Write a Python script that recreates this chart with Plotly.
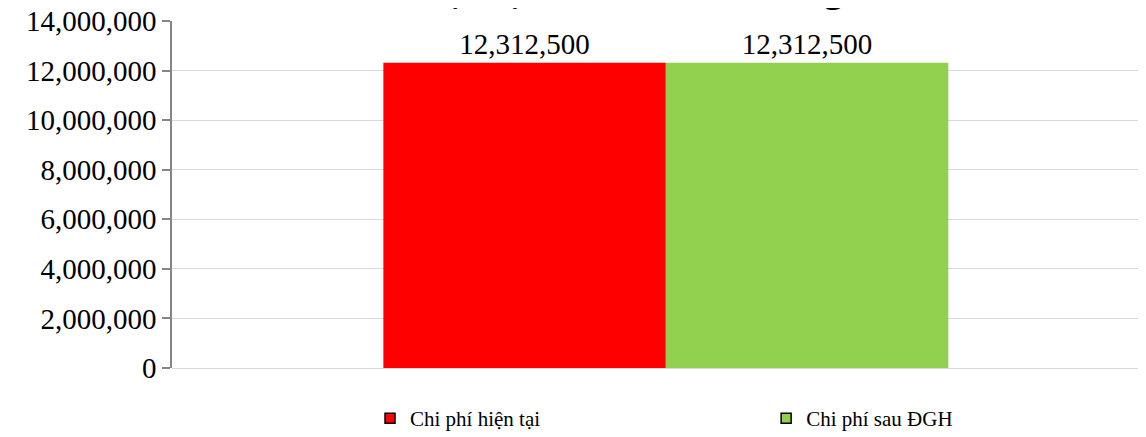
import plotly.graph_objects as go

categories = ["Chi phí"]
series_names = ["Chi phí hiện tại", "Chi phí sau ĐGH"]
series_values = [[12312500], [12312500]]
series_colors = ["#FF0000", "#92D050"]
title_lines = ["Chi phí", "hiện tại và sau ĐGH, đồng"]

FONT = "Times New Roman, Liberation Serif, serif"
legend_ids = ["legend", "legend2"]

fig = go.Figure()
for name, vals, col, lid in zip(series_names, series_values, series_colors, legend_ids):
    fig.add_trace(go.Bar(
        x=categories, y=vals, name=name, marker=dict(color=col, line=dict(width=0)),
        text=[f"{v:,}" for v in vals], textposition="outside", cliponaxis=False,
        textfont=dict(family=FONT, size=29, color="black"), showlegend=False,
    ))
    fig.add_trace(go.Scatter(
        x=[None], y=[None], mode="markers", name=name, legend=lid,
        marker=dict(symbol="square", size=10, color=col, line=dict(color="black", width=1.5)),
        showlegend=True,
    ))

fig.add_annotation(
    text="<b>" + "<br>".join(title_lines) + "</b>", xref="paper", yref="paper",
    x=0.2464, y=1.026, xanchor="left", yanchor="bottom", align="left", showarrow=False,
    font=dict(family=FONT, size=38, color="black"),
)

leg_common = dict(orientation="h", xanchor="left", y=-0.0865, yanchor="top",
                  font=dict(family=FONT, size=21, color="black"), itemwidth=30,
                  bgcolor="rgba(0,0,0,0)")

# page body has an 8px offset; compensate in size and margins
fig.update_layout(
    width=1138, height=429,
    margin=dict(l=164, r=0, t=13, b=69, pad=0, autoexpand=False),
    paper_bgcolor="white", plot_bgcolor="white",
    barmode="group", bargap=0.42, bargroupgap=0,
    font=dict(family=FONT, color="black"),
    showlegend=True,
    legend=dict(x=0.2033, **leg_common),
    legend2=dict(x=0.61, **leg_common),
    xaxis=dict(range=[-0.507, 0.493], showticklabels=False, showgrid=False,
               zeroline=False, showline=False, ticks=""),
    yaxis=dict(
        range=[0, 14000000], dtick=2000000, tickformat=",",
        showgrid=True, gridcolor="#d9d9d9", gridwidth=1,
        zeroline=True, zerolinecolor="#d9d9d9", zerolinewidth=1,
        showline=True, linecolor="#868686", linewidth=1.5,
        ticks="outside", ticklen=8, tickcolor="#868686", tickwidth=1.5,
        tickfont=dict(family=FONT, size=29, color="black"),
        ticklabeloverflow="allow", automargin=False,
    ),
)

fig.write_html("out.html")
